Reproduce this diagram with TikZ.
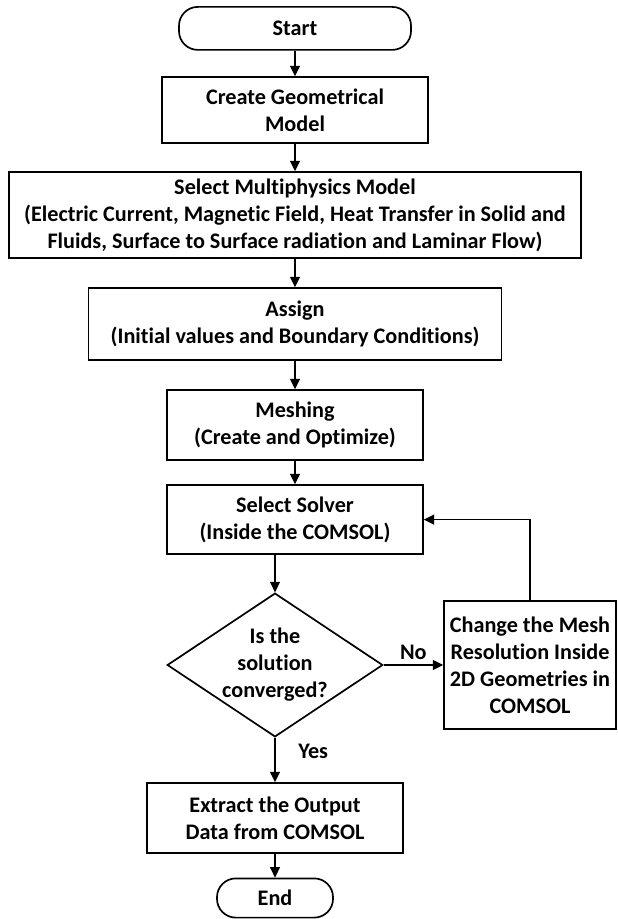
\documentclass[tikz,border=0pt]{standalone}
\usepackage{fontspec}
\setmainfont{Carlito}[Ligatures=NoCommon]
\usetikzlibrary{arrows.meta,shapes.geometric}

\begin{document}
\begin{tikzpicture}[
  >={Triangle[length=2.6mm,width=2.5mm]},
  every node/.style={font=\bfseries\fontsize{15.8}{19.2}\selectfont},
  term/.style={draw, line width=1.2pt, rounded corners=4.7mm, align=center, inner sep=0pt},
  proc/.style={draw, line width=1.2pt, align=center, inner sep=0pt},
  dec/.style={draw, diamond, line width=1.2pt, align=center, inner sep=0pt, shape aspect=1.5},
  link/.style={->, line width=0.8pt},
]
\useasboundingbox (0,0) rectangle (15.45,-22.975);
\node[term, minimum width=5.8cm, minimum height=1.075cm] (start) at (7.375,-0.71) {Start};
\node[proc, minimum width=6.65cm, minimum height=1.65cm] (geom) at (7.375,-2.75)
  {Create Geometrical\\Model};
\node[proc, minimum width=14.3cm, minimum height=2.15cm] (multi) at (7.375,-5.375)
  {Select Multiphysics Model\\(Electric Current, Magnetic Field, Heat Transfer in Solid and\\Fluids, Surface to Surface radiation and Laminar Flow)};
\node[proc, minimum width=10.325cm, minimum height=1.8cm] (assign) at (7.375,-8.1)
  {Assign\\(Initial values and Boundary Conditions)};
\node[proc, minimum width=6.4cm, minimum height=1.75cm] (mesh) at (7.375,-10.625)
  {Meshing\\(Create and Optimize)};
\node[proc, minimum width=6.4cm, minimum height=1.725cm] (solver) at (7.375,-12.99)
  {Select Solver\\(Inside the COMSOL)};
\node[dec, minimum width=5.35cm, minimum height=3.575cm] (conv) at (6.875,-16.625)
  {Is the\\solution\\converged?};
\node[proc, minimum width=4.3cm, minimum height=3.2cm] (change) at (13.25,-16.625)
  {Change the Mesh\\Resolution Inside\\2D Geometries in\\COMSOL};
\node[proc, minimum width=6.4cm, minimum height=1.75cm] (extract) at (6.875,-20.45)
  {Extract the Output\\Data from COMSOL};
\node[term, minimum width=2.9cm, minimum height=0.98cm] (fin) at (6.875,-22.45) {End};
\draw[link] (start) -- (geom);
\draw[link] (geom) -- (multi);
\draw[link] (multi) -- (assign);
\draw[link] (assign) -- (mesh);
\draw[link] (mesh) -- (solver);
\draw[link] (conv.north |- solver.south) -- (conv.north);
\draw[link] (conv) -- node[above] {No} (change);
\draw[link] (conv) -- node[right=0.45cm, pos=0.3] {Yes} (extract);
\draw[link] (extract) -- (fin);
\draw[link] (change.north) |- (solver.east);
\end{tikzpicture}
\end{document}
